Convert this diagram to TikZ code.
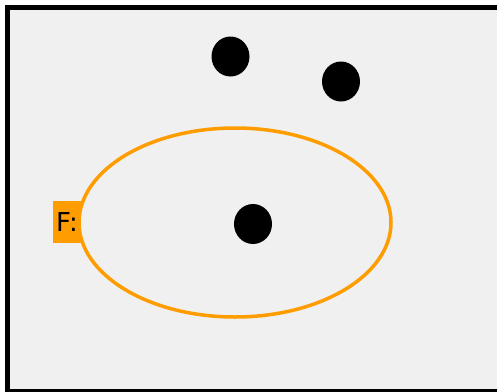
\documentclass[tikz,border=0pt]{standalone}
\usepackage{fontspec}
\setsansfont{DejaVu Sans}
\definecolor{bg}{HTML}{F0F0F0}
\definecolor{orng}{HTML}{FF9D00}
\begin{document}
\begin{tikzpicture}[x=1pt,y=-1pt,
  dot/.style={fill=black,draw=none},
  lbl/.style={fill=orng,inner sep=0pt,minimum width=28pt,minimum height=42pt,font=\sffamily\fontsize{26}{26}\selectfont,text=black}]
\useasboundingbox (0,0) rectangle (497,391);
\fill[white] (0,0) rectangle (497,391);
\draw[line width=4.5pt,fill=bg] (7.5,7.5) rectangle (500,391);
\node[lbl] (F) at (67,222) {F:};
\draw[orng,line width=3.5pt] (235,222.5) ellipse [x radius=156, y radius=94.5];
\fill[dot] (230.5,56.5) ellipse [x radius=19, y radius=20];
\fill[dot] (341,81.5) ellipse [x radius=19, y radius=20];
\fill[dot] (253,224) ellipse [x radius=19, y radius=20];
\end{tikzpicture}
\end{document}
